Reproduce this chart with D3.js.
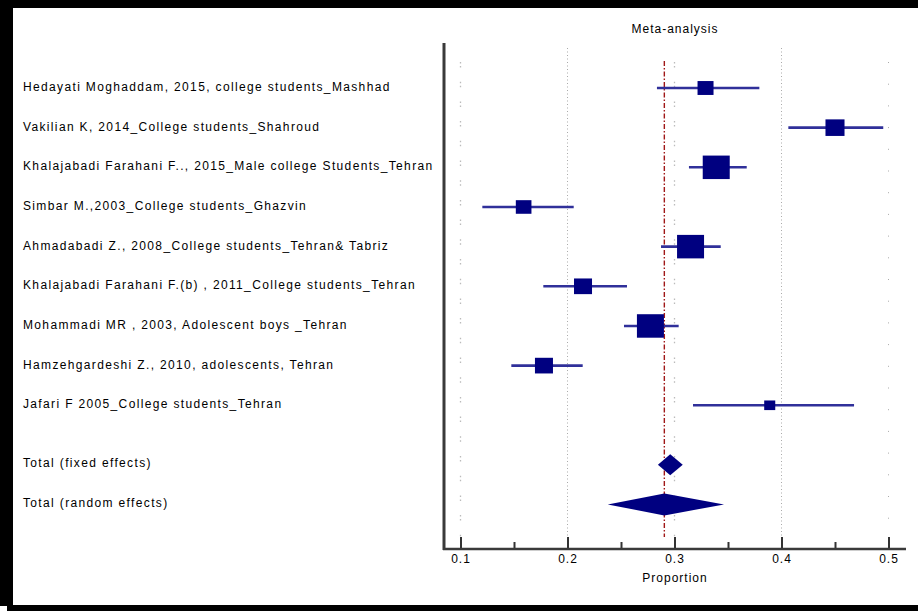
<!DOCTYPE html>
<html><head><meta charset="utf-8">
<script src="https://cdn.jsdelivr.net/npm/d3@7"></script>
<style>
html,body{margin:0;padding:0;background:#fff;}
svg text{font-family:"Liberation Sans",Arial,sans-serif;fill:#000;}
</style></head>
<body>
<svg id="chart" width="918" height="611"></svg>
<script>
// ---- data ----
const studies = [
  "Hedayati Moghaddam, 2015, college students_Mashhad",
  "Vakilian K, 2014_College students_Shahroud",
  "Khalajabadi Farahani F.., 2015_Male college Students_Tehran",
  "Simbar M.,2003_College students_Ghazvin",
  "Ahmadabadi Z., 2008_College students_Tehran& Tabriz",
  "Khalajabadi Farahani F.(b) , 2011_College students_Tehran",
  "Mohammadi MR , 2003, Adolescent boys _Tehran",
  "Hamzehgardeshi Z., 2010, adolescents, Tehran",
  "Jafari F 2005_College students_Tehran"
];
const proportion = [0.329, 0.450, 0.339, 0.159, 0.315, 0.2145, 0.2775, 0.178, 0.389];
const ciLow      = [0.2836, 0.4064, 0.3135, 0.1204, 0.2874, 0.1774, 0.2528, 0.1475, 0.3173];
const ciHigh     = [0.3793, 0.4951, 0.3675, 0.2058, 0.3432, 0.2556, 0.3039, 0.2142, 0.4678];
const weights    = [6.7, 9.5, 19.1, 6.4, 19.1, 8.5, 19.1, 8.5, 3.2];
const totalLabels = ["Total (fixed effects)", "Total (random effects)"];
const totalEst  = [0.296, 0.2905];
const totalLow  = [0.2845, 0.2376];
const totalHigh = [0.3077, 0.3463];
const pooledLine = 0.2905;
const majorTicks = [0.1, 0.2, 0.3, 0.4, 0.5];
const minorTicks = [0.15, 0.25, 0.35, 0.45];

// ---- layout ----
const svg = d3.select("#chart");
const x = d3.scaleLinear().domain([0.1, 0.5]).range([460.5, 888.5]);
const y = d3.scaleLinear().domain([0, 1]).range([88, 127.66]);
const side = d3.scaleSqrt().domain([0, 19.1]).range([0, 27]);
const axisY = 549, plotTop = 43;
const navy = "#000080", ciCol = "#30309a";

// frame
svg.append("rect").attr("x",0).attr("y",0).attr("width",918).attr("height",611).attr("fill","#fff");
svg.append("rect").attr("x",0).attr("y",0).attr("width",918).attr("height",8).attr("fill","#000");
svg.append("rect").attr("x",0).attr("y",0).attr("width",13).attr("height",606).attr("fill","#000");
svg.append("rect").attr("x",7).attr("y",605).attr("width",911).attr("height",6).attr("fill","#000");

// grid lines
const g = svg.append("g");
g.selectAll("line.gd").data([0.2, 0.4]).join("line")
  .attr("x1", d => x(d)).attr("x2", d => x(d))
  .attr("y1", 48).attr("y2", 537)
  .attr("stroke", "#aaa").attr("stroke-width", 1).attr("stroke-dasharray", "1,2.5");
g.selectAll("line.gs").data([0.1, 0.3]).join("line")
  .attr("x1", d => x(d)).attr("x2", d => x(d))
  .attr("y1", 62).attr("y2", 537)
  .attr("stroke", "#bbb").attr("stroke-width", 1.3).attr("stroke-dasharray", "1.5,2.5,1.5,14.2");
g.append("line")
  .attr("x1", x(0.5)).attr("x2", x(0.5)).attr("y1", 62).attr("y2", 537)
  .attr("stroke", "#aaa").attr("stroke-width", 1).attr("stroke-dasharray", "1,20.7");

// pooled line
svg.append("line")
  .attr("x1", x(pooledLine)).attr("x2", x(pooledLine))
  .attr("y1", 61).attr("y2", 537)
  .attr("stroke", "#a01818").attr("stroke-width", 1.4).attr("stroke-dasharray", "5,2,1.5,2");

// axes
const ax = svg.append("g").attr("transform", `translate(0,${axisY})`)
  .call(d3.axisBottom(x).tickValues(majorTicks).tickFormat(d3.format(".1f"))
        .tickSizeInner(-12).tickSizeOuter(0).tickPadding(5));
ax.select(".domain").remove();
ax.selectAll(".tick line").attr("stroke", "#333").attr("stroke-width", 2);
ax.selectAll(".tick text").attr("font-size", "12px").attr("letter-spacing", "1px")
  .attr("font-family", "Liberation Sans, Arial, sans-serif").attr("fill", "#000");
const axm = svg.append("g").attr("transform", `translate(0,${axisY})`)
  .call(d3.axisBottom(x).tickValues(minorTicks).tickFormat("").tickSizeInner(-7).tickSizeOuter(0));
axm.select(".domain").remove();
axm.selectAll(".tick line").attr("stroke", "#333").attr("stroke-width", 2);
svg.append("line").attr("x1", 443).attr("x2", 906).attr("y1", axisY).attr("y2", axisY)
  .attr("stroke", "#3a3a3a").attr("stroke-width", 2.5);
svg.append("line").attr("x1", 444).attr("x2", 444).attr("y1", plotTop).attr("y2", axisY + 1)
  .attr("stroke", "#3a3a3a").attr("stroke-width", 3);

// titles
svg.append("text").attr("x", 675).attr("y", 33).attr("text-anchor", "middle")
  .attr("font-size", "12px").attr("letter-spacing", "1px").text("Meta-analysis");
svg.append("text").attr("x", 675).attr("y", 582).attr("text-anchor", "middle")
  .attr("font-size", "12px").attr("letter-spacing", "1px").text("Proportion");

// study labels
const rows = studies.map((s, i) => ({label: s, i}));
svg.selectAll("text.lab").data(rows).join("text")
  .attr("class", "lab").attr("x", 23).attr("y", d => y(d.i) + 3)
  .attr("font-size", "12px").attr("letter-spacing", "1.35px").text(d => d.label);
const totRows = totalLabels.map((s, k) => ({label: s, pos: 9.5 + k}));
svg.selectAll("text.tot").data(totRows).join("text")
  .attr("class", "tot").attr("x", 23).attr("y", d => y(d.pos) + 2.5)
  .attr("font-size", "12px").attr("letter-spacing", "1.35px").text(d => d.label);

// CIs
svg.selectAll("line.ci").data(rows).join("line")
  .attr("x1", d => x(ciLow[d.i])).attr("x2", d => x(ciHigh[d.i]))
  .attr("y1", d => y(d.i)).attr("y2", d => y(d.i))
  .attr("stroke", ciCol).attr("stroke-width", 2.6);
// squares
svg.selectAll("rect.pt").data(rows).join("rect")
  .attr("x", d => x(proportion[d.i]) - side(weights[d.i]) / 2)
  .attr("y", d => y(d.i) - side(weights[d.i]) * 0.87 / 2)
  .attr("width", d => side(weights[d.i]))
  .attr("height", d => side(weights[d.i]) * 0.87)
  .attr("fill", navy);

// diamonds
const dh = [21, 22];
svg.selectAll("path.dia").data(totRows).join("path")
  .attr("d", (d, k) => {
    const cy = y(d.pos);
    return `M${x(totalLow[k])},${cy} L${x(totalEst[k])},${cy - dh[k] / 2} L${x(totalHigh[k])},${cy} L${x(totalEst[k])},${cy + dh[k] / 2} Z`;
  })
  .attr("fill", navy);
</script>
</body></html>
